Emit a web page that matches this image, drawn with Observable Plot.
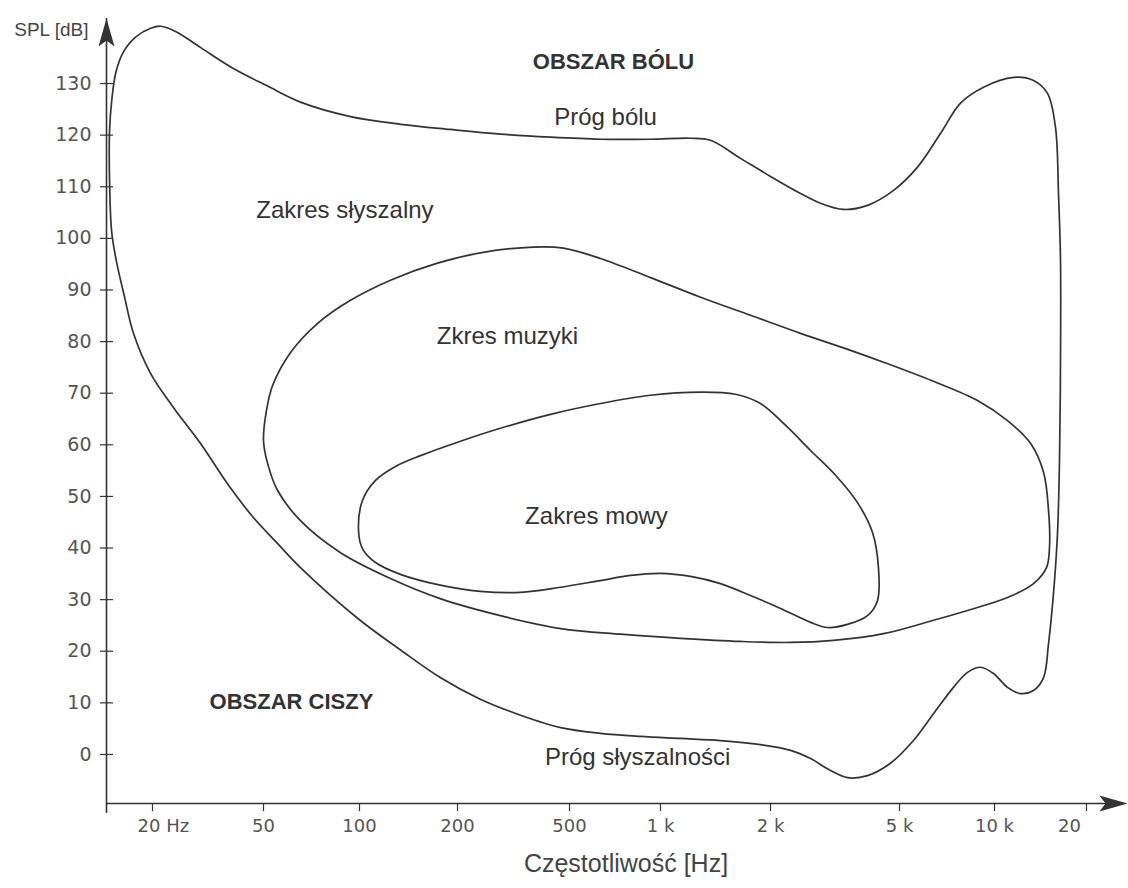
<!DOCTYPE html>
<html><head><meta charset="utf-8">
<script src="https://cdn.jsdelivr.net/npm/d3@7"></script>
<script src="https://cdn.jsdelivr.net/npm/@observablehq/plot@0.6"></script>
<style>
  html,body{margin:0;padding:0;background:#fff}
  svg{display:block}
</style>
</head><body><div id="chart"></div>
<script>
// ---------- data ----------
const xTicks = [20, 50, 100, 200, 500, 1000, 2000, 5000, 10000, 20000];
const xTickLabels = ["20 Hz", "50", "100", "200", "500", "1 k", "2 k", "5 k", "10 k", "20"];
const yTicks = [0, 10, 20, 30, 40, 50, 60, 70, 80, 90, 100, 110, 120, 130];

// outer contour: threshold of pain (top) + threshold of hearing (bottom)
const outerFreq = [14.3,14.05,14.05,14.3,14.8,15.7,17.4,19.7,21.4,24.2,
  29.7,39.0,51.5,65.3,93.7,134,190,284,428,633,
  927,1208,1370,1656,2000,2476,2855,3358,3984,4794,
  5702,6743,7804,9229,11540,13417,14908,15834,16196,16443,
  16443,16319,16074,15597,15025,14470,13417,12164,11028,9927,
  9030,8212,7413,6407,5536,4688,3984,3456,3063,2658,
  2306,1878,1459,1134,859,633,465,335,241,177,
  134,98.6,65.3,55.3,46.0,37.1,29.7,23.8,19.7,17.1,
  15.9,14.9];
const outerSPL = [101.2,111.2,120.9,126.7,132.2,136.0,139.0,140.7,141.1,140.1,
  137.0,132.9,129.5,126.4,123.6,122.1,121.1,120.2,119.6,119.2,
  119.2,119.4,119.0,115.5,112.0,108.7,106.8,105.6,106.4,109.3,
  113.8,120.3,126.2,129.3,131.2,130.6,128.1,121.5,108.7,95.7,
  76.4,57.0,42.8,31.2,21.5,14.9,12.4,11.8,13.0,15.7,
  16.9,15.9,13.0,7.9,2.7,-1.7,-4.1,-4.5,-3.1,-0.8,
  0.8,1.9,2.7,3.1,3.5,4.1,5.2,7.6,10.7,14.9,
  20.2,26.4,36.2,40.9,45.9,52.5,60.3,67.2,73.8,81.6,
  88.6,95.3];

// music range
const musicFreq = [50,51.1,53.4,60.8,73.8,93.7,124.5,173.6,247,372,
  476,633,927,1287,1763,2476,3532,4464,6407,8833,
  11028,13115,14470,15025,15134,14797,13417,11028,8212,6407,
  4464,3128,2306,1656,1134,737,465,284,177,124.5,
  87.2,65.3,55.3,51.5];
const musicSPL = [60.9,66.7,71.5,77.9,83.5,88.0,91.9,95.2,97.3,98.3,
  98.1,96.1,92.4,88.6,85.1,81.6,78.3,76.0,72.3,68.6,
  64.7,60.3,54.7,47.3,40.1,36.2,33.1,30.4,27.9,26.0,
  23.4,22.1,21.7,21.9,22.5,23.3,24.4,26.9,30.2,34.1,
  39.1,45.3,51.2,56.4];

// speech range
const speechFreq = [99.3,102.1,112,129,154,205,284,428,633,927,
  1287,1604,1878,2224,2658,3174,3710,4128,4306,4276,
  3984,3456,2998,2658,2148,1763,1459,1208,1000,796,
  633,465,335,241,177,133.6,112,102.1];
const speechSPL = [43.4,49.2,53.1,55.8,57.9,60.7,63.2,65.9,68.0,69.6,
  70.2,69.8,68.0,63.8,58.9,54.1,48.8,43.0,36.2,29.8,
  26.9,25.2,24.6,25.6,28.3,30.8,33.1,34.5,35.1,34.7,
  33.7,32.4,31.4,31.6,32.8,34.9,37.2,39.9];

// annotations (frequency, SPL)
const labelText = ["Próg bólu", "Zakres słyszalny", "Zkres muzyki", "Zakres mowy", "Próg słyszalności"];
const labelFreq = [658, 90, 301, 614, 840];
const labelSPL = [123.4, 105.4, 81.0, 46.1, -0.6];
const zoneText = ["OBSZAR BÓLU", "OBSZAR CISZY"];
const zoneFreq = [699, 61.2];
const zoneSPL = [134.1, 10.1];

const xTitle = "Częstotliwość [Hz]";
const yTitle = "SPL [dB]";

// ---------- build tables ----------
const xMin = 13.7, xMax = 27240, yMin = -9.5, yMax = 142.6;
const pts = (F, S) => F.map((f, i) => ({f, db: S[i]}));
const outer = pts(outerFreq, outerSPL);
const music = pts(musicFreq, musicSPL);
const speech = pts(speechFreq, speechSPL);
const labels = labelText.map((t, i) => ({t, f: labelFreq[i], db: labelSPL[i]}));
const zones = zoneText.map((t, i) => ({t, f: zoneFreq[i], db: zoneSPL[i]}));
const xTickData = xTicks.map((v, i) => ({v, label: xTickLabels[i]}));

const arrowHead = {
  draw(ctx) {
    ctx.moveTo(0, 0);
    ctx.lineTo(-8, 28);
    ctx.lineTo(0, 22);
    ctx.lineTo(8, 28);
    ctx.closePath();
  }
};

const INK = "#333";
const TICKFONT = "DejaVu Sans, sans-serif";
const LABELFONT = "Liberation Sans, Arial, sans-serif";

const chart = Plot.plot({
  width: 1128,
  height: 888,
  marginLeft: 106,
  marginRight: 1,
  marginTop: 18,
  marginBottom: 85,
  x: {type: "log", domain: [xMin, ...xTicks, xMax],
      range: [106, 152, 263, 359, 457, 569, 660, 770, 899, 994, 1086, 1127], axis: null},
  y: {domain: [yMin, yMax], range: [803, 18], axis: null},
  style: {fontFamily: LABELFONT, background: "#fff", color: INK},
  marks: [
    // axes lines
    Plot.ruleY([yMin], {x1: () => xMin, x2: () => xMax, stroke: INK, strokeWidth: 1.6, insetRight: 10}),
    Plot.ruleX([xMin], {y1: () => yMin, y2: () => yMax, stroke: INK, strokeWidth: 1.6, insetTop: 10}),
    // arrow heads
    Plot.dot([{f: xMin, db: yMax}], {x: "f", y: "db", symbol: arrowHead, fill: INK, stroke: "none", r: 10}),
    Plot.dot([{f: xMax, db: yMin}], {x: "f", y: "db", symbol: arrowHead, fill: INK, stroke: "none", r: 10, rotate: 90}),
    // y tick crosses
    Plot.ruleY(yTicks, {y: d => d, x1: () => xMin, x2: () => xMin, insetLeft: -6, insetRight: -7, stroke: INK, strokeWidth: 1.2}),
    // x ticks
    Plot.ruleX(xTicks, {x: d => d, y1: () => yMin, y2: () => yMin, insetBottom: -8, stroke: INK, strokeWidth: 1.2}),
    // y tick labels
    Plot.text(yTicks, {x: () => xMin, y: d => d, text: d => String(d), textAnchor: "end", dx: -15,
      fontFamily: TICKFONT, fontSize: 19, fill: "#555"}),
    // x tick labels
    Plot.text(xTickData.slice(0, 1), {x: "v", text: "label", frameAnchor: "bottom", dy: 28, textAnchor: "start", dx: -15,
      fontFamily: TICKFONT, fontSize: 18, fill: "#555"}),
    Plot.text(xTickData.slice(1, -1), {x: "v", text: "label", frameAnchor: "bottom", dy: 28,
      fontFamily: TICKFONT, fontSize: 18, fill: "#555"}),
    Plot.text(xTickData.slice(-1), {x: "v", text: "label", frameAnchor: "bottom", dy: 28, dx: -17,
      fontFamily: TICKFONT, fontSize: 18, fill: "#555"}),
    // axis titles
    Plot.text([yTitle], {frameAnchor: "top-left", dx: -18, dy: 4, textAnchor: "end",
      fontSize: 19, fill: "#444"}),
    Plot.text([xTitle], {frameAnchor: "bottom", dx: 9, dy: 68, fontSize: 25, fill: "#444"}),
    // curves
    Plot.line(outer, {x: "f", y: "db", curve: "catmull-rom-closed", stroke: INK, strokeWidth: 1.7}),
    Plot.line(music, {x: "f", y: "db", curve: "catmull-rom-closed", stroke: INK, strokeWidth: 1.7}),
    Plot.line(speech, {x: "f", y: "db", curve: "catmull-rom-closed", stroke: INK, strokeWidth: 1.7}),
    // annotations
    Plot.text(labels, {x: "f", y: "db", text: "t", fontSize: 24, fill: "#333"}),
    Plot.text(zones, {x: "f", y: "db", text: "t", fontSize: 22, fontWeight: "bold", fill: "#333", letterSpacing: 1})
  ]
});
document.getElementById("chart").append(chart);
</script>
</body></html>
